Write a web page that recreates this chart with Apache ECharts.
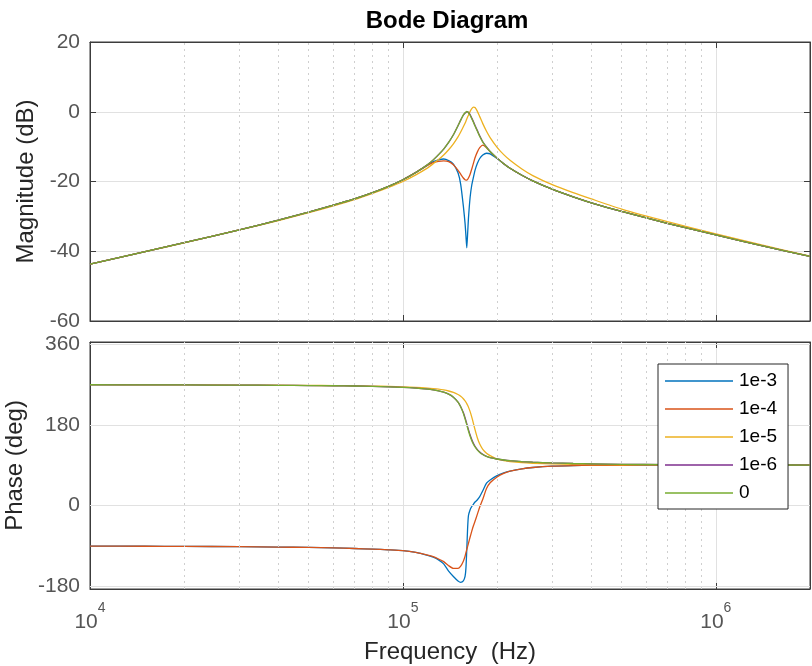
<!DOCTYPE html>
<html><head><meta charset="utf-8">
<script src="https://cdn.jsdelivr.net/npm/echarts@6/dist/echarts.min.js"></script>
<style>html,body{margin:0;padding:0;background:#fff}#c{width:812px;height:666px}</style>
</head><body><div id="c"></div>
<script>
// ---------- data ----------
const freqHz = [10000,15000,20000,30000,40000,50000,60000,70000,80000,90000,
  100000,110000,120000,125000,130000,135000,140000,145000,150000,153000,
  156000,158000,159000,160000,161000,162000,164000,166000,168000,170000,
  173000,176000,180000,185000,190000,200000,210000,220000,240000,260000,
  300000,350000,400000,500000,700000,1000000,1400000,2000000];

const seriesNames = ['1e-3','1e-4','1e-5','1e-6','0'];

// magnitude (dB)
const mag_1e3 = [-43.7,-40.1,-37.5,-33.9,-31.1,-28.8,-26.8,-25.0,-23.2,-21.4,
  -19.5,-17.4,-15.3,-14.3,-13.8,-13.55,-14.0,-15.0,-17.5,-20.8,
  -27.0,-32.0,-35.5,-39.0,-35.0,-30.5,-24.5,-21.0,-18.8,-16.8,
  -14.8,-13.4,-12.4,-11.9,-12.1,-13.4,-14.9,-16.2,-18.2,-19.8,
  -22.2,-24.4,-26.1,-28.6,-32.0,-35.3,-38.4,-41.5];
const mag_1e4 = [-43.7,-40.1,-37.5,-33.9,-31.1,-28.8,-26.8,-25.0,-23.2,-21.4,
  -19.5,-17.4,-15.3,-14.6,-14.2,-14.1,-14.3,-15.2,-16.8,-17.9,
  -19.0,-19.5,-19.6,-19.6,-19.4,-19.0,-17.9,-16.4,-14.8,-13.2,
  -11.5,-10.3,-9.55,-10.3,-11.5,-13.3,-14.9,-16.2,-18.2,-19.8,
  -22.2,-24.4,-26.1,-28.6,-32.0,-35.3,-38.4,-41.5];
const mag_1e5 = [-43.7,-40.1,-37.6,-33.9,-31.2,-28.9,-27.0,-25.2,-23.4,-21.7,
  -20.0,-18.1,-16.1,-14.9,-13.7,-12.4,-10.9,-9.2,-7.2,-5.8,
  -4.3,-3.3,-2.7,-2.1,-1.5,-1.0,0.1,0.9,1.3,1.2,
  0.1,-1.4,-3.4,-5.6,-7.4,-10.2,-12.3,-13.9,-16.4,-18.3,
  -20.9,-23.2,-25.0,-27.9,-31.5,-35.0,-38.2,-41.4];
const mag_1e6 = [-43.7,-40.1,-37.5,-33.9,-31.1,-28.8,-26.8,-25.0,-23.2,-21.4,
  -19.5,-17.4,-15.1,-13.8,-12.3,-10.7,-8.8,-6.6,-4.0,-2.4,
  -1.0,-0.4,-0.2,0.0,0.0,-0.2,-0.8,-1.8,-2.8,-3.9,
  -5.4,-6.9,-8.6,-10.1,-11.4,-13.3,-14.9,-16.2,-18.2,-19.8,
  -22.2,-24.4,-26.1,-28.6,-32.0,-35.3,-38.4,-41.5];
const mag_0 = [-43.7,-40.1,-37.5,-33.9,-31.1,-28.8,-26.8,-25.0,-23.2,-21.4,
  -19.5,-17.4,-15.1,-13.8,-12.3,-10.7,-8.8,-6.6,-4.0,-2.4,
  -0.9,-0.3,-0.1,0.1,0.0,-0.3,-1.0,-2.0,-3.0,-4.1,
  -5.6,-7.1,-8.7,-10.2,-11.4,-13.3,-14.9,-16.2,-18.2,-19.8,
  -22.2,-24.4,-26.1,-28.6,-32.0,-35.3,-38.4,-41.5];

// phase (deg)
const ph_1e3 = [-90.3,-90.6,-90.9,-91.6,-92.4,-93.3,-94.4,-95.6,-97.0,-98.6,
  -100.4,-104.5,-111,-115,-121,-130,-146,-158,-168,-171,
  -168,-158,-140,-99,-50,-22,-9,-2,3,8,
  13,20,33,50,57,67,73,77,82,85,
  88,89.3,89.8,90.1,90.3,90.4,90.5,90.5];
const ph_1e4 = [-90.3,-90.6,-90.9,-91.6,-92.4,-93.3,-94.4,-95.6,-97.0,-98.6,
  -100.4,-104.5,-110.5,-114,-119,-125,-134,-140,-140,-135,
  -124,-113,-105,-98,-91,-84,-70,-57,-45,-35,
  -19,-3,14,38,51,64,72,77,82,85,
  88,89.3,89.8,90.1,90.3,90.4,90.5,90.5];
const ph_1e5 = [269.7,269.5,269.3,269.0,268.6,268.2,267.8,267.3,266.7,266.0,
  265.0,263.8,262.2,261.1,259.8,258.0,255.7,252.5,247.9,243.9,
  238.5,233.6,230.8,227.5,223.9,219.7,209.7,197.5,183.6,169.4,
  150.9,137.4,125.6,116.9,111.5,103.5,100.5,98.3,95.8,94.5,
  93.0,92.2,91.7,91.2,90.8,90.6,90.5,90.4];
const ph_1e6 = [269.6,269.4,269.2,268.8,268.4,267.9,267.4,266.8,266.0,265.1,
  263.9,262.2,259.8,258.1,255.9,253.0,248.6,242.0,231.0,220.5,
  207.5,196.0,189.5,183.0,176.0,169.5,157.5,147.5,139.0,132.5,
  125.0,119.5,114.3,110.0,107.0,104.0,101.8,100.2,98.2,96.9,
  95.3,94.0,93.2,92.1,91.4,91.0,90.7,90.5];
const ph_0 = [269.6,269.4,269.2,268.8,268.4,267.9,267.4,266.8,266.0,265.1,
  263.9,262.2,259.8,258.1,255.9,253.0,248.6,242.0,231.0,220.5,
  205.8,193.5,186.9,180.0,173.1,166.6,154.8,144.9,137.0,130.8,
  123.8,118.7,113.9,109.8,106.9,104.0,101.8,100.2,98.2,96.9,
  95.3,94.0,93.2,92.1,91.4,91.0,90.7,90.5];

const magTicks = [-60,-40,-20,0,20];
const phaseTicks = [-180,0,180,360];
const minorFreqs = [20000,30000,40000,50000,60000,70000,80000,90000,
  200000,300000,400000,500000,600000,700000,800000,900000];

// ---------- chart ----------
const colors = ['#0072BD','#D95319','#EDB120','#7E2F8E','#77AC30'];
const magData = [mag_1e3, mag_1e4, mag_1e5, mag_1e6, mag_0];
const phData = [ph_1e3, ph_1e4, ph_1e5, ph_1e6, ph_0];
const FONT = '"Liberation Sans", Arial, Helvetica, sans-serif';
const AXC = '#3c3c3c';
const GRIDC = '#e1e1e1';
const MINC = '#cfcfcf';

function pairs(vals){ return freqHz.map((f,i)=>[f, vals[i]]); }

function logLabel(v){
  const e = Math.log10(v); const r = Math.round(e);
  if (Math.abs(e - r) > 1e-6) return '';
  return '{b|10}{e|' + r + '}';
}

const series = [];
series.push({
  type:'line', xAxisIndex:0, yAxisIndex:0, data:[], z:1, silent:true,
  markLine:{silent:true, symbol:['none','none'], animation:false, label:{show:false},
    lineStyle:{type:[2,4], color:MINC, width:1},
    data: minorFreqs.map(f=>({xAxis:f}))}
});
series.push({
  type:'line', xAxisIndex:1, yAxisIndex:1, data:[], z:1, silent:true,
  markLine:{silent:true, symbol:['none','none'], animation:false, label:{show:false},
    lineStyle:{type:[2,4], color:MINC, width:1},
    data: minorFreqs.map(f=>({xAxis:f})).concat(
      phaseTicks.map(v=>({yAxis:v, lineStyle:{type:'solid', color:GRIDC, width:1}})))}
});
for (let i=0;i<5;i++){
  series.push({type:'line', name:seriesNames[i], xAxisIndex:0, yAxisIndex:0,
    data:pairs(magData[i]), symbol:'none', showSymbol:false, smooth:0.2,
    lineStyle:{width:1.3, color:colors[i]}, itemStyle:{color:colors[i]}, z:2, animation:false});
}
for (let i=0;i<5;i++){
  series.push({type:'line', name:seriesNames[i], xAxisIndex:1, yAxisIndex:1,
    data:pairs(phData[i]), symbol:'none', showSymbol:false, smooth:0.2,
    lineStyle:{width:1.3, color:colors[i]}, itemStyle:{color:colors[i]}, z:2, animation:false});
}

const xBase = {
  type:'log', logBase:10, min:10000, max:2000000,
  axisLine:{show:true, onZero:false, lineStyle:{color:AXC}},
  axisTick:{show:true, inside:true, length:6, lineStyle:{color:AXC}},
  splitLine:{show:true, lineStyle:{color:GRIDC, width:1}}
};
const xTopBase = {
  type:'log', logBase:10, min:10000, max:2000000, position:'top',
  axisLine:{show:true, onZero:false, lineStyle:{color:AXC}},
  axisTick:{show:true, inside:true, length:6, lineStyle:{color:AXC}},
  axisLabel:{show:false}, splitLine:{show:false}
};

const option = {
  animation:false,
  color: colors,
  textStyle:{fontFamily:FONT},
  title:{text:'Bode Diagram', left:442, textAlign:'center', top:4,
    textStyle:{fontSize:24, fontWeight:'bold', color:'#000', fontFamily:FONT}},
  legend:{data:seriesNames, orient:'vertical', left:658, top:364, icon:'rect', z:20,
    itemWidth:68, itemHeight:1.6, itemGap:8, padding:[7,11,6,7],
    borderColor:'#262626', borderWidth:1, backgroundColor:'#fff',
    textStyle:{fontSize:19, color:'#000', lineHeight:20, fontFamily:FONT, padding:[0,0,0,1]}},
  grid:[
    {left:90, right:2, top:42, height:279, show:true, borderColor:AXC, borderWidth:1, backgroundColor:'transparent', outerBoundsMode:'none', containLabel:false},
    {left:90, right:2, top:342, height:247, show:true, borderColor:AXC, borderWidth:1, backgroundColor:'transparent', outerBoundsMode:'none', containLabel:false}
  ],
  xAxis:[
    Object.assign({}, xBase, {gridIndex:0, axisLabel:{show:false}}),
    Object.assign({}, xBase, {gridIndex:1,
      axisLabel:{show:true, margin:12, formatter:logLabel, color:'#555',
        rich:{b:{fontSize:21, color:'#555', fontFamily:FONT, lineHeight:32, verticalAlign:'bottom'},
              e:{fontSize:14, color:'#555', fontFamily:FONT, lineHeight:14, verticalAlign:'top'}}},
      name:'Frequency  (Hz)', nameLocation:'middle', nameGap:51,
      nameTextStyle:{fontSize:24, color:'#262626', fontFamily:FONT}}),
    Object.assign({}, xTopBase, {gridIndex:0}),
    Object.assign({}, xTopBase, {gridIndex:1})
  ],
  yAxis:[
    {type:'value', gridIndex:0, min:-60, max:20, interval:20,
      axisLine:{show:true, onZero:false, lineStyle:{color:AXC}},
      axisTick:{show:true, inside:true, length:6, lineStyle:{color:AXC}},
      axisLabel:{fontSize:21, color:'#555', margin:10, fontFamily:FONT},
      splitLine:{show:true, lineStyle:{color:GRIDC}},
      name:'Magnitude (dB)', nameLocation:'middle', nameGap:49,
      nameTextStyle:{fontSize:24, color:'#262626', fontFamily:FONT}},
    {type:'value', gridIndex:1, min:-186, max:365,
      axisLine:{show:true, onZero:false, lineStyle:{color:AXC}},
      axisTick:{show:true, inside:true, length:6, lineStyle:{color:AXC}, customValues:phaseTicks},
      axisLabel:{fontSize:21, color:'#555', margin:10, fontFamily:FONT, customValues:phaseTicks},
      splitLine:{show:false},
      name:'Phase (deg)', nameLocation:'middle', nameGap:59,
      nameTextStyle:{fontSize:24, color:'#262626', fontFamily:FONT}},
    {type:'value', gridIndex:0, min:-60, max:20, interval:20, position:'right',
      axisLine:{show:true, onZero:false, lineStyle:{color:AXC}},
      axisTick:{show:true, inside:true, length:6, lineStyle:{color:AXC}},
      axisLabel:{show:false}, splitLine:{show:false}},
    {type:'value', gridIndex:1, min:-186, max:365, position:'right',
      axisLine:{show:true, onZero:false, lineStyle:{color:AXC}},
      axisTick:{show:true, inside:true, length:6, lineStyle:{color:AXC}, customValues:phaseTicks},
      axisLabel:{show:false, customValues:phaseTicks}, splitLine:{show:false}}
  ],
  series: series
};

const chart = echarts.init(document.getElementById('c'), null, {renderer:'canvas'});
chart.setOption(option);
</script>
</body></html>
